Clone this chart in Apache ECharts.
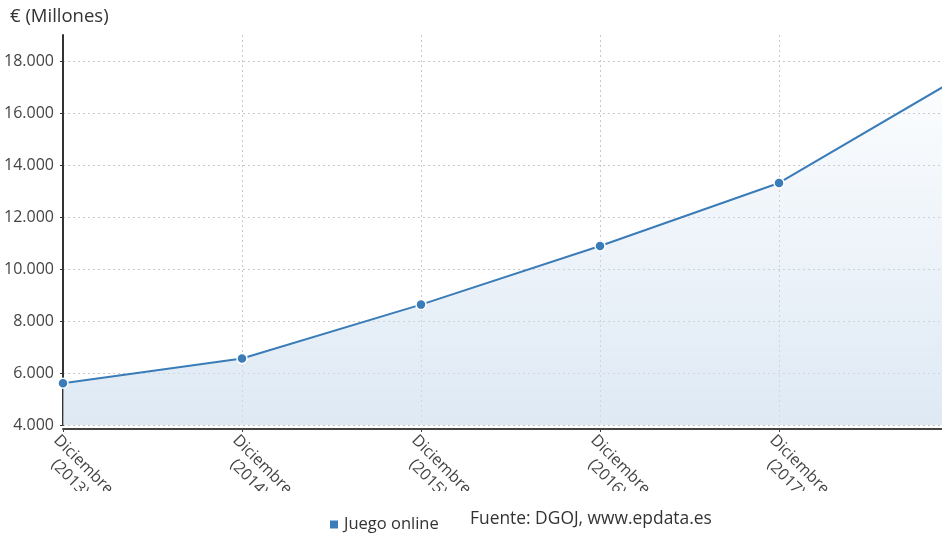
<!DOCTYPE html>
<html>
<head>
<meta charset="utf-8">
<script src="https://cdn.jsdelivr.net/npm/echarts@6/dist/echarts.min.js"></script>
<style>html,body{margin:0;padding:0;background:#fff}#c{width:942px;height:533px}</style>
</head>
<body>
<div id="c"></div>
<script>
const categories = ['Diciembre\n(2013)', 'Diciembre\n(2014)', 'Diciembre\n(2015)', 'Diciembre\n(2016)', 'Diciembre\n(2017)', 'Diciembre\n(2018)'];
const juegoOnline = [5610, 6555, 8630, 10885, 13310, 17340];
const seriesName = 'Juego online';
const yTitle = '€ (Millones)';
const sourceText = 'Fuente: DGOJ, www.epdata.es';

const FONT = '"Open Sans", sans-serif';
const chart = echarts.init(document.getElementById('c'), null, {renderer: 'canvas'});
chart.setOption({
  animation: false,
  textStyle: {fontFamily: FONT},
  title: {
    text: yTitle, left: 5, top: 2,
    textStyle: {fontFamily: FONT, fontSize: 18.5, fontWeight: 'normal', color: '#333'}
  },
  legend: {
    data: [seriesName], left: 323, top: 511,
    icon: 'rect', itemWidth: 10, itemHeight: 10, itemGap: 4,
    textStyle: {fontFamily: FONT, fontSize: 16.5, color: '#333'}
  },
  graphic: [
    {type: 'rect', left: 0, top: 491, shape: {width: 942, height: 14}, style: {fill: '#fff'}, z: 100},
    {type: 'text', left: 470, top: 511, z: 101,
     style: {text: sourceText, fontFamily: FONT, fontSize: 17.4, fill: '#333'}}
  ],
  grid: {left: 63, right: -16, top: 35, bottom: 108, containLabel: false, outerBoundsMode: 'none'},
  xAxis: {
    type: 'category', data: categories, boundaryGap: false, offset: 4,
    axisLine: {lineStyle: {color: '#444', width: 2}},
    axisTick: {show: true, length: 3, lineStyle: {color: '#444'}},
    axisLabel: {rotate: -45, color: '#444', fontSize: 16, fontFamily: FONT, margin: 2, lineHeight: 19,
      interval: 0, hideOverlap: false, verticalAlign: 'top',
      formatter: (v, i) => i >= categories.length - 1 ? '' : v.split('\n').map(s => '{c|' + s + '}').join('\n'),
      rich: {c: {align: 'center', fontSize: 16, fontFamily: FONT, color: '#444', lineHeight: 19}}},
    splitLine: {show: true, lineStyle: {color: '#c8c8c8', type: [2, 3], width: 1}}
  },
  yAxis: {
    type: 'value', min: 4000, max: 19000, interval: 2000,
    axisLine: {show: true, lineStyle: {color: '#333', width: 2}},
    axisTick: {show: true, length: 3, lineStyle: {color: '#333'}},
    axisLabel: {
      color: '#444', fontSize: 16, fontFamily: FONT, margin: 9, showMaxLabel: false,
      formatter: v => v === 19000 ? '' : v.toLocaleString('de-DE')
    },
    splitLine: {show: true, showMaxLine: false, lineStyle: {color: '#c8c8c8', type: [2, 3], width: 1}}
  },
  series: [{
    name: seriesName, type: 'line', data: juegoOnline,
    symbol: 'circle', symbolSize: 10, showSymbol: true,
    itemStyle: {color: '#3a7cb8', borderColor: '#fff', borderWidth: 1.5},
    lineStyle: {color: '#3a7cb8', width: 2},
    areaStyle: {
      color: new echarts.graphic.LinearGradient(0, 0, 0, 1, [
        {offset: 0, color: 'rgba(208,224,240,0.1)'},
        {offset: 1, color: 'rgba(208,224,240,1)'}
      ])
    }
  }]
});
</script>
</body>
</html>
